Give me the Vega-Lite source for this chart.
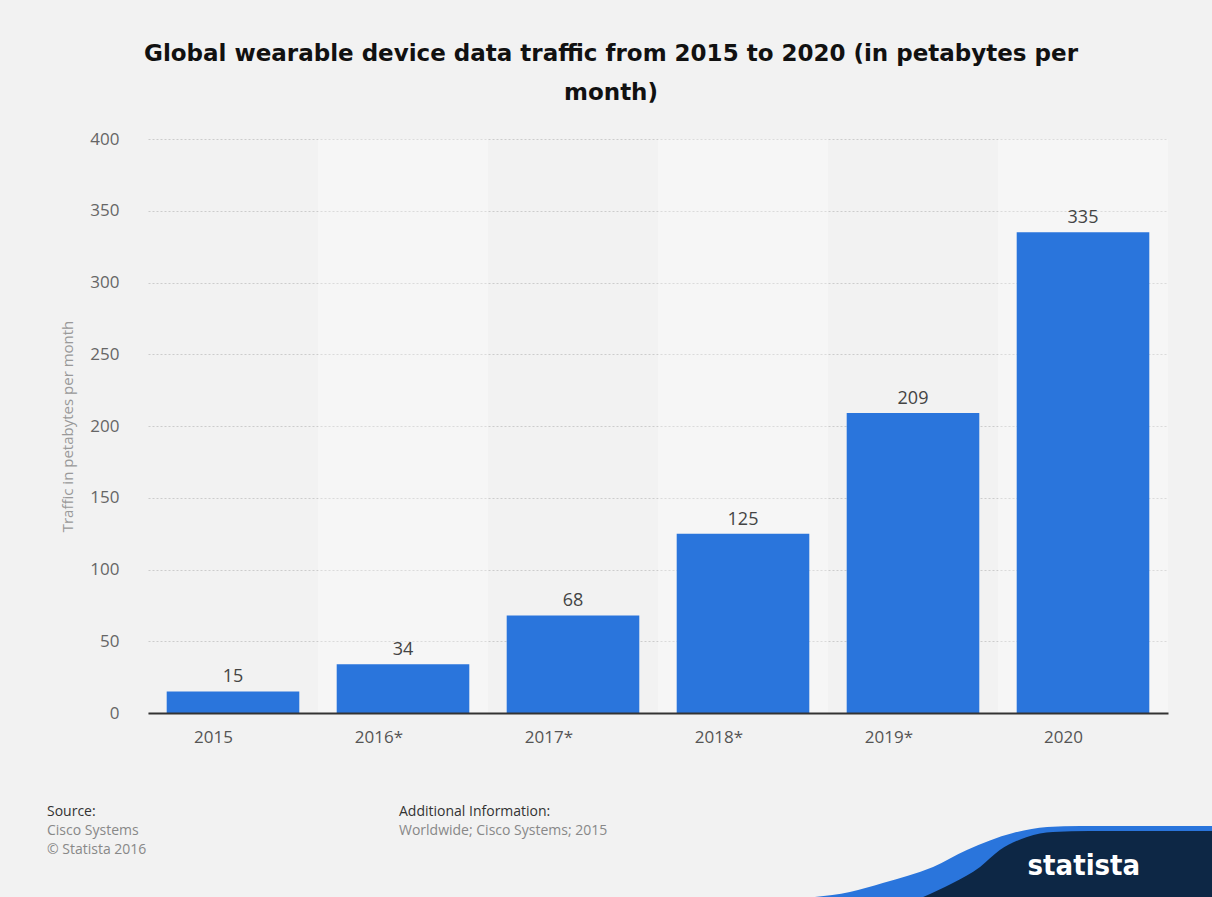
{
  "$schema": "https://vega.github.io/schema/vega-lite/v6.json",
  "width": 1020,
  "height": 574,
  "autosize": {"type": "none"},
  "padding": {"left": 148, "top": 139, "right": 44, "bottom": 184},
  "background": "#f2f2f2",
  "title": {
    "text": ["Global wearable device data traffic from 2015 to 2020 (in petabytes per", "month)"],
    "font": "DejaVu Sans",
    "fontSize": 23,
    "fontWeight": "bold",
    "color": "#111111",
    "anchor": "middle",
    "frame": "group",
    "dx": -47,
    "offset": 25,
    "lineHeight": 39
  },
  "config": {
    "view": {"stroke": null},
    "axis": {"labelFont": "Open Sans", "titleFont": "Open Sans"}
  },
  "resolve": {"scale": {"x": "independent", "y": "independent", "color": "independent"}},
  "layer": [
    {
      "data": {
        "values": [
          {"year": "2015", "traffic": 15},
          {"year": "2016*", "traffic": 34},
          {"year": "2017*", "traffic": 68},
          {"year": "2018*", "traffic": 125},
          {"year": "2019*", "traffic": 209},
          {"year": "2020", "traffic": 335}
        ]
      },
      "layer": [
        {
          "transform": [{"filter": {"field": "year", "oneOf": ["2016*", "2018*", "2020"]}}],
          "mark": {"type": "bar", "color": "#ffffff", "opacity": 0.3},
          "encoding": {
            "x": {"field": "year", "type": "nominal"},
            "y": {"datum": 400, "type": "quantitative"},
            "y2": {"datum": 0}
          }
        },
        {
          "mark": {"type": "bar", "color": "#2a75dc", "width": {"band": 0.78}},
          "encoding": {
            "x": {
              "field": "year",
              "type": "nominal",
              "scale": {"domain": ["2015", "2016*", "2017*", "2018*", "2019*", "2020"], "paddingInner": 0, "paddingOuter": 0},
              "axis": {
                "title": null,
                "labelAngle": 0,
                "ticks": false,
                "domainColor": "#333333",
                "domainWidth": 2,
                "labelFontSize": 17,
                "labelColor": "#555555",
                "labelPadding": 24,
                "grid": false,
                "zindex": 1
              }
            },
            "y": {
              "field": "traffic",
              "type": "quantitative",
              "scale": {"domain": [0, 400], "nice": false},
              "axis": {
                "values": [0, 50, 100, 150, 200, 250, 300, 350, 400],
                "title": "Traffic in petabytes per month",
                "titleFontSize": 15,
                "titleFontWeight": "normal",
                "titleColor": "#999999",
                "titlePadding": 14,
                "domain": false,
                "ticks": false,
                "labelPadding": 29,
                "labelFontSize": 17,
                "labelColor": "#666666",
                "grid": true,
                "gridColor": "#cccccc",
                "gridDash": [2, 2],
                "zindex": 0
              }
            }
          }
        },
        {
          "mark": {"type": "text", "baseline": "bottom", "dy": -5, "font": "Open Sans", "fontSize": 18, "color": "#444444"},
          "encoding": {
            "x": {"field": "year", "type": "nominal"},
            "y": {"field": "traffic", "type": "quantitative"},
            "text": {"field": "traffic", "type": "quantitative"}
          }
        }
      ]
    },
    {
      "data": {
        "values": [
          {"t": "Source:", "c": 0, "r": 0, "k": "head"},
          {"t": "Cisco Systems", "c": 0, "r": 1, "k": "body"},
          {"t": "© Statista 2016", "c": 0, "r": 2, "k": "body"},
          {"t": "Additional Information:", "c": 1, "r": 0, "k": "head"},
          {"t": "Worldwide; Cisco Systems; 2015", "c": 1, "r": 1, "k": "body"}
        ]
      },
      "mark": {"type": "text", "align": "left", "baseline": "middle", "font": "Open Sans", "fontSize": 14},
      "encoding": {
        "x": {"field": "c", "type": "quantitative", "scale": {"domain": [0, 1], "range": [-101, 251]}, "axis": null},
        "y": {"field": "r", "type": "quantitative", "scale": {"domain": [0, 2], "range": [673, 711]}, "axis": null},
        "text": {"field": "t"},
        "color": {"field": "k", "type": "nominal", "scale": {"domain": ["head", "body"], "range": ["#333333", "#888888"]}, "legend": null}
      }
    },
    {
      "layer": [
        {
          "data": {
            "values": [
              {"u": 3.6, "v": 100}, {"u": 12.1, "v": 93.5}, {"u": 20.1, "v": 81.8}, {"u": 32.3, "v": 61.0},
              {"u": 40.5, "v": 39.0}, {"u": 51.7, "v": 16.9}, {"u": 60.0, "v": 9.1}, {"u": 68.0, "v": 7.8}, {"u": 100, "v": 7.8}
            ]
          },
          "mark": {"type": "area", "color": "#2a75dc", "interpolate": "monotone"},
          "encoding": {
            "x": {"field": "u", "type": "quantitative", "scale": {"domain": [0, 100], "range": [652, 1064]}, "axis": null},
            "y": {"field": "v", "type": "quantitative", "scale": {"domain": [0, 100], "range": [681, 758]}, "axis": null},
            "y2": {"datum": 100}
          }
        },
        {
          "data": {
            "values": [
              {"u": 29.9, "v": 100}, {"u": 37.1, "v": 81.8}, {"u": 43.7, "v": 61.0}, {"u": 48.5, "v": 39.0},
              {"u": 55.1, "v": 22.1}, {"u": 61.4, "v": 15.6}, {"u": 70.4, "v": 14.3}, {"u": 100, "v": 14.3}
            ]
          },
          "mark": {"type": "area", "color": "#0d2745", "interpolate": "monotone"},
          "encoding": {
            "x": {"field": "u", "type": "quantitative"},
            "y": {"field": "v", "type": "quantitative"},
            "y2": {"datum": 100}
          }
        },
        {
          "data": {"values": [{"u": 68.9, "v": 59.7, "t": "statista"}]},
          "mark": {"type": "text", "font": "DejaVu Sans Condensed", "fontWeight": "bold", "fontSize": 29, "color": "#ffffff", "baseline": "middle", "align": "center"},
          "encoding": {
            "x": {"field": "u", "type": "quantitative"},
            "y": {"field": "v", "type": "quantitative"},
            "text": {"field": "t"}
          }
        }
      ]
    }
  ]
}
